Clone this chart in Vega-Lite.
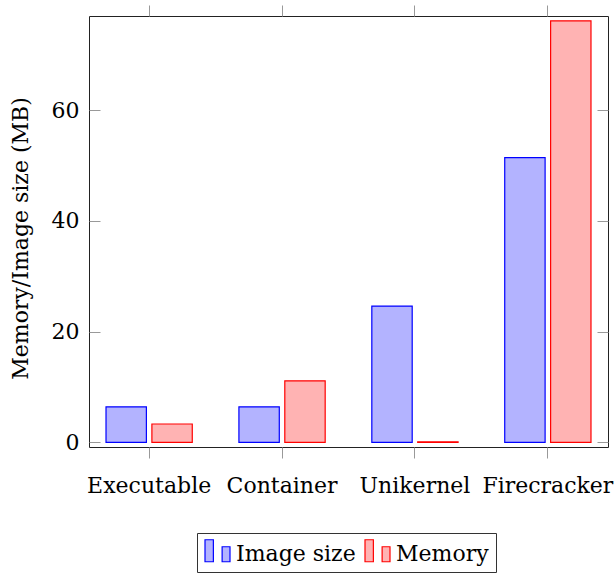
{
  "$schema": "https://vega.github.io/schema/vega-lite/v6.json",
  "autosize": {"type": "none"},
  "width": 519,
  "height": 431,
  "padding": {"left": 89, "top": 16, "right": 6, "bottom": 130},
  "background": "white",
  "data": {
    "values": [
      {"platform": "Executable", "series": "Image size", "mb": 6.4},
      {"platform": "Executable", "series": "Memory", "mb": 3.3},
      {"platform": "Container", "series": "Image size", "mb": 6.4},
      {"platform": "Container", "series": "Memory", "mb": 11.1},
      {"platform": "Unikernel", "series": "Image size", "mb": 24.6},
      {"platform": "Unikernel", "series": "Memory", "mb": 0.1},
      {"platform": "Firecracker", "series": "Image size", "mb": 51.4},
      {"platform": "Firecracker", "series": "Memory", "mb": 76.1}
    ]
  },
  "layer": [
    {
      "mark": {"type": "bar", "strokeWidth": 1.2},
      "encoding": {
        "x": {
          "field": "platform",
          "type": "nominal",
          "sort": null,
          "scale": {"paddingInner": 0.351, "paddingOuter": 0.128},
          "axis": {
            "orient": "bottom",
            "title": null,
            "domain": false,
            "labelAngle": 0,
            "tickSize": 11,
            "tickColor": "#999999",
            "labelFont": "DejaVu Serif",
            "labelFontSize": 22,
            "labelColor": "black",
            "labelBaseline": "alphabetic",
            "labelPadding": 34
          }
        },
        "xOffset": {
          "field": "series",
          "type": "nominal",
          "sort": ["Image size", "Memory"],
          "scale": {"paddingInner": 0.12, "paddingOuter": 0}
        },
        "y": {
          "field": "mb",
          "type": "quantitative",
          "scale": {"domain": [-0.85, 76.98], "nice": false, "zero": false},
          "axis": {
            "orient": "left",
            "values": [0, 20, 40, 60],
            "domain": false,
            "grid": false,
            "tickSize": -11,
            "tickColor": "#999999",
            "labelPadding": 21,
            "labelFont": "DejaVu Serif",
            "labelFontSize": 22,
            "labelColor": "black",
            "title": "Memory/Image size (MB)",
            "titleFont": "DejaVu Serif",
            "titleFontSize": 22,
            "titleFontWeight": "normal",
            "titleColor": "black",
            "titleAngle": 270,
            "titleAlign": "center",
            "titleBaseline": "alphabetic",
            "titleX": -62,
            "titleY": 222
          }
        },
        "color": {
          "field": "series",
          "type": "nominal",
          "sort": ["Image size", "Memory"],
          "scale": {"domain": ["Image size", "Memory"], "range": ["#b3b3ff", "#ffb3b3"]},
          "legend": {
            "title": null,
            "orient": "none",
            "direction": "horizontal",
            "columns": 2,
            "legendX": 108,
            "legendY": 517,
            "padding": 7,
            "strokeColor": "#333333",
            "fillColor": "white",
            "symbolType": "M-1,-1.12H-0.33V0.64H-1Z M0.37,-0.56H1V0.64H0.37Z",
            "symbolSize": 625,
            "symbolStrokeWidth": 1.2,
            "labelFont": "DejaVu Serif",
            "labelFontSize": 22,
            "labelColor": "black",
            "labelOffset": 5,
            "columnPadding": 6
          }
        },
        "stroke": {
          "field": "series",
          "type": "nominal",
          "sort": ["Image size", "Memory"],
          "scale": {"domain": ["Image size", "Memory"], "range": ["#0000ff", "#ff0000"]},
          "legend": {"title": null}
        }
      }
    },
    {
      "mark": {"type": "point", "opacity": 0},
      "encoding": {
        "x": {
          "field": "platform",
          "type": "nominal",
          "sort": null,
          "axis": {
            "orient": "top",
            "title": null,
            "domain": false,
            "labels": false,
            "tickSize": 11,
            "tickColor": "#999999"
          }
        },
        "y": {
          "field": "mb",
          "type": "quantitative",
          "axis": {
            "orient": "right",
            "title": null,
            "values": [0, 20, 40, 60],
            "domain": false,
            "grid": false,
            "labels": false,
            "tickSize": -11,
            "tickColor": "#999999"
          }
        }
      }
    }
  ],
  "resolve": {"axis": {"x": "independent", "y": "independent"}},
  "config": {
    "view": {"stroke": "#222222", "strokeWidth": 1}
  }
}
